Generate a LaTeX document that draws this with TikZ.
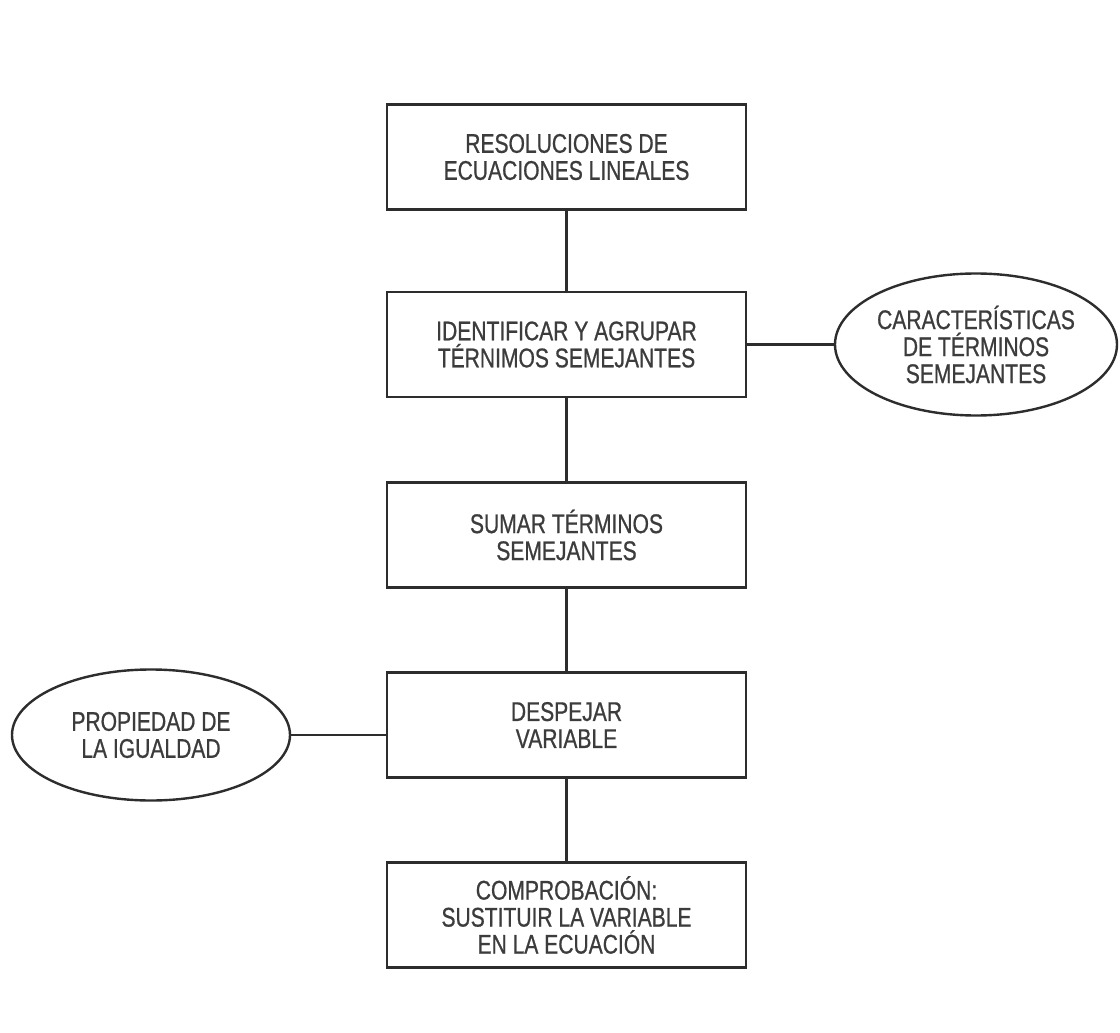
\documentclass[tikz,border=0pt]{standalone}
\usepackage{fontspec}
\setmainfont{Liberation Sans}[FakeStretch=0.78,FakeBold=0.7]
\usetikzlibrary{shapes.geometric}
\definecolor{ink}{RGB}{45,45,45}
\definecolor{txt}{RGB}{60,60,60}
\begin{document}
\begin{tikzpicture}[x=1pt,y=-1pt,
  stepbox/.style={draw=ink, line width=2.6pt, rectangle, minimum width=359pt, minimum height=105pt,
    inner sep=0pt, align=center, text=txt, font=\fontsize{27}{27}\selectfont},
  oval/.style={draw=ink, line width=2.4pt, ellipse, inner sep=0pt, align=center, text=txt,
    font=\fontsize{27}{27}\selectfont},
  link/.style={draw=ink, line width=2.4pt}]
\useasboundingbox (0,0) rectangle (1120,1033);
\fill[white] (0,0) rectangle (1120,1033);

\node[stepbox] (b1) at (566.5,157) {RESOLUCIONES DE\\ECUACIONES LINEALES};
\node[stepbox] (b2) at (566.5,344.5) {IDENTIFICAR Y AGRUPAR\\TÉRNIMOS SEMEJANTES};
\node[stepbox] (b3) at (566.5,535) {SUMAR TÉRMINOS\\SEMEJANTES};
\node[stepbox] (b4) at (566.5,725) {DESPEJAR\\VARIABLE};
\node[stepbox] (b5) at (566.5,915) {COMPROBACIÓN:\\SUSTITUIR LA VARIABLE\\EN LA ECUACIÓN};

\node[oval, minimum width=282pt, minimum height=142pt] (ce) at (976,344.5) {CARACTERÍSTICAS\\DE TÉRMINOS\\SEMEJANTES};
\node[oval, minimum width=278pt, minimum height=131pt] (pi) at (151,735) {PROPIEDAD DE\\LA IGUALDAD};

\draw[link] (b1.south) -- (b2.north);
\draw[link] (b2.south) -- (b3.north);
\draw[link] (b3.south) -- (b4.north);
\draw[link] (b4.south) -- (b5.north);
\draw[link] (b2.east) -- (ce.west);
\draw[link] (pi.east) -- (pi.east -| b4.west);
\end{tikzpicture}
\end{document}
